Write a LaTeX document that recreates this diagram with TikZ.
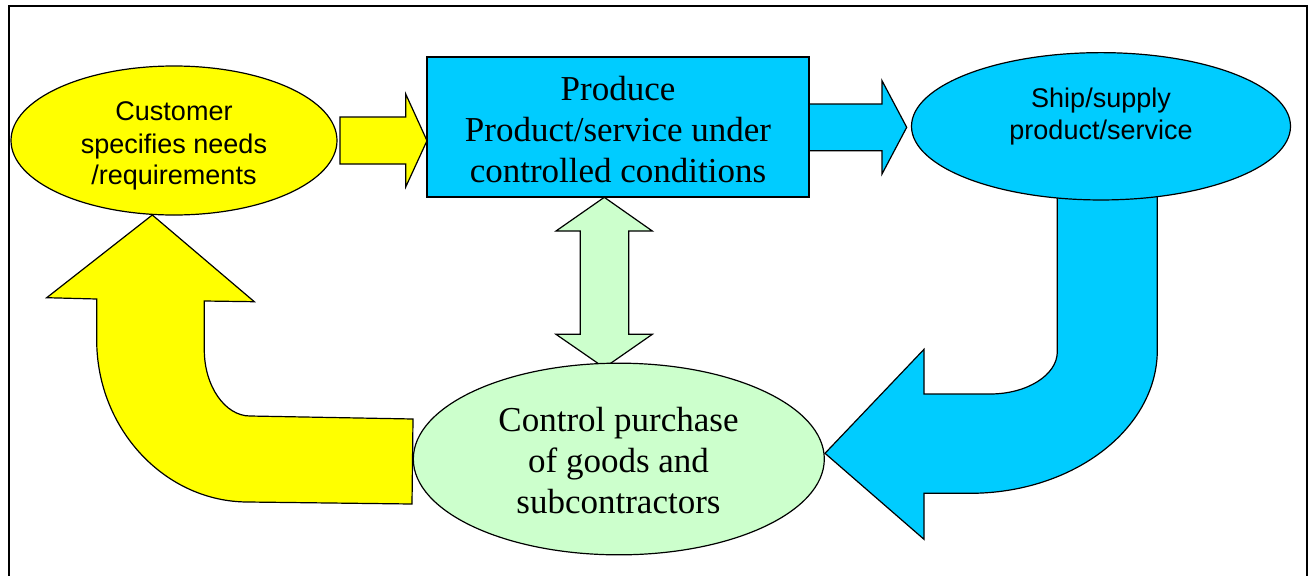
\documentclass[tikz,border=0pt]{standalone}
\usepackage{fontspec}
\setmainfont{Liberation Serif}
\newfontfamily\arialf{Liberation Sans}
\usetikzlibrary{shapes.geometric}
\definecolor{cyanb}{HTML}{00CCFF}
\definecolor{yel}{HTML}{FFFF00}
\definecolor{grn}{HTML}{CCFFCC}
\begin{document}
\begin{tikzpicture}[x=0.75pt,y=-0.75pt,
  shp/.style={draw=black, line width=0.9pt, line join=miter},
  ell/.style={ellipse, draw=black, line width=0.9pt, inner sep=0pt},
  sanslbl/.style={font=\arialf\fontsize{20.25}{24}\selectfont, anchor=base, inner sep=0pt},
  seriflbl/.style={font=\fontsize{26.25}{31}\selectfont, anchor=base, inner sep=0pt}]
\useasboundingbox (0,0) rectangle (1308,575);
% frame
\draw[line width=1.5pt] (9,5.7) rectangle (1307,620);

% blue bent arrow (ship -> control)
\path[shp, fill=cyanb] (1057.3,196) -- (1057.3,351.7)
  .. controls (1057.3,375) and (1027,394) .. (990,394)
  -- (924,394) -- (924,349.3) -- (825,453.3) -- (924,539.3) -- (924,493.3) -- (970,493.3)
  .. controls (1073,493.3) and (1157.3,429) .. (1157.3,350)
  -- (1157.3,196) -- cycle;

% yellow bent arrow (control -> customer)
\path[shp, fill=yel] (152.3,215) -- (254.3,301.7) -- (204.3,301) -- (204.3,350)
  .. controls (204.3,386) and (225,416) .. (250,416)
  -- (413,419) -- (412,504) -- (248,502)
  .. controls (165,502) and (96.7,429) .. (96.7,340)
  -- (96.7,299) -- (46.7,297.7) -- cycle;

% yellow straight arrow (customer -> produce)
\path[shp, fill=yel] (340,117) -- (405.7,117) -- (405.7,94) -- (427,140.7) -- (405.7,187) -- (405.7,164) -- (340,164) -- cycle;

% blue straight arrow (produce -> ship)
\path[shp, fill=cyanb] (809,104) -- (882,104) -- (882,80.7) -- (906.7,127.3) -- (882,174) -- (882,150.7) -- (809,150.7) -- cycle;

% green double arrow (produce <-> control)
\path[shp, fill=grn] (604.3,197.3) -- (652.3,231) -- (628.7,231) -- (628.7,334.3) -- (652.3,334.3) -- (604.3,367.7) -- (556,334.3) -- (580.3,334.3) -- (580.3,231) -- (556,231) -- cycle;

% nodes
\node[ell, fill=yel, minimum width=244.5pt, minimum height=111.75pt] (cust) at (174,140.5) {};
\node[sanslbl] (cust1) at (174,120.7) {Customer};
\node[sanslbl] (cust2) at (174,153) {specifies needs};
\node[sanslbl] (cust3) at (174,184.5) {/requirements};

\node[draw=black, line width=0.9pt, fill=cyanb, minimum width=286.5pt, minimum height=105pt, inner sep=0pt] (prod) at (618,127) {};
\node[seriflbl] (prod1) at (618,100) {Produce};
\node[seriflbl] (prod2) at (618,141.7) {Product/service under};
\node[seriflbl] (prod3) at (618,182.7) {controlled conditions};

\node[ell, fill=cyanb, minimum width=284.25pt, minimum height=110.5pt] (ship) at (1101,126.3) {};
\node[sanslbl] (ship1) at (1101,107.5) {Ship/supply};
\node[sanslbl] (ship2) at (1101,139) {product/service};

\node[ell, fill=grn, minimum width=308.25pt, minimum height=143.75pt] (ctrl) at (618.8,459) {};
\node[seriflbl] (ctrl1) at (618.5,431.5) {Control purchase};
\node[seriflbl] (ctrl2) at (618.5,472) {of goods and};
\node[seriflbl] (ctrl3) at (618.5,513) {subcontractors};
\end{tikzpicture}
\end{document}
